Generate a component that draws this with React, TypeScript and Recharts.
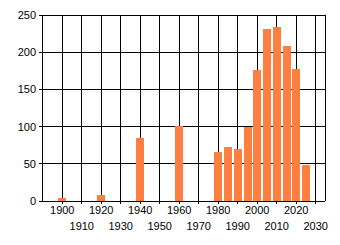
import React from 'react';
import { BarChart, Bar, XAxis, YAxis, CartesianGrid } from 'recharts';

const years = [1900, 1920, 1940, 1960, 1980, 1985, 1990, 1995, 2000, 2005, 2010, 2015, 2020, 2025];
const counts = [4, 8, 85, 101, 66, 73, 70, 99, 176, 231, 234, 209, 178, 48];
const yearTicks = [1900, 1910, 1920, 1930, 1940, 1950, 1960, 1970, 1980, 1990, 2000, 2010, 2020, 2030];
const countTicks = [0, 50, 100, 150, 200, 250];

const data = years.map((year, i) => ({ year, count: counts[i] }));

const font = { fontFamily: '"Liberation Sans", Arial, sans-serif', fontSize: 11, fill: '#000' };

// every other decade label drops to a second row
const StaggeredTick = (props: any) => {
  const { x, y, payload } = props;
  const lower = ((payload.value - 1900) / 10) % 2 === 1;
  return (
    <text x={x} y={y + (lower ? 16 : 0)} dy="0.71em" textAnchor="middle" {...font}>
      {payload.value}
    </text>
  );
};

const App = () => {
  return (
    <div style={{ position: 'absolute', left: 0, top: 0 }}>
      <style>{`.recharts-cartesian-grid line, .recharts-cartesian-axis line, .recharts-rectangle { shape-rendering: crispEdges; }`}</style>
      <BarChart width={340} height={245} data={data} margin={{ top: 15, right: 15, left: 0, bottom: 0 }}>
        <CartesianGrid stroke="#000" strokeDasharray="" />
        <XAxis
          dataKey="year"
          type="number"
          domain={[1889.6, 2034.8]}
          ticks={yearTicks}
          interval={0}
          height={44}
          stroke="#000"
          tickSize={3}
          tickMargin={2}
          tick={<StaggeredTick />}
        />
        <YAxis
          domain={[0, 250]}
          ticks={countTicks}
          width={42}
          stroke="#000"
          tickSize={3}
          tickMargin={3}
          tick={font}
        />
        <Bar dataKey="count" fill="#ff7f40" barSize={8} isAnimationActive={false} />
      </BarChart>
    </div>
  );
};

export default App;
